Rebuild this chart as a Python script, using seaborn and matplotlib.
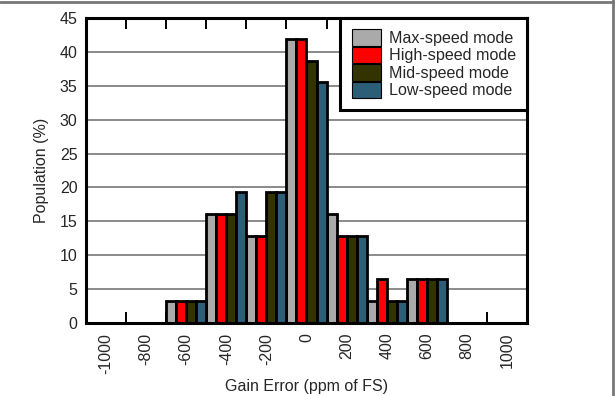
import pandas as pd
import seaborn as sns
import matplotlib.pyplot as plt
from matplotlib.lines import Line2D

bins = ["-1000", "-800", "-600", "-400", "-200", "0", "200", "400", "600", "800", "1000"]
modes = ["Max-speed mode", "High-speed mode", "Mid-speed mode", "Low-speed mode"]
max_speed = [0, 0, 3.2, 16.1, 12.9, 41.9, 16.1, 3.2, 6.5, 0, 0]
high_speed = [0, 0, 3.2, 16.1, 12.9, 41.9, 12.9, 6.5, 6.5, 0, 0]
mid_speed = [0, 0, 3.2, 16.1, 19.4, 38.7, 12.9, 3.2, 6.5, 0, 0]
low_speed = [0, 0, 3.2, 19.4, 19.4, 35.5, 12.9, 3.2, 6.5, 0, 0]
colors = ["#AAAAAA", "#FF0000", "#333300", "#2C5E78"]

rows = []
for mode, vals in zip(modes, [max_speed, high_speed, mid_speed, low_speed]):
    for b, v in zip(bins, vals):
        rows.append({"bin": b, "population": v, "mode": mode})
df = pd.DataFrame(rows)

sns.set_style("white")
plt.rcParams["font.family"] = ["Liberation Sans", "DejaVu Sans"]

fig, ax = plt.subplots(figsize=(6.15, 3.96), dpi=100)
fig.subplots_adjust(left=0.1398, right=0.8569, bottom=0.1843, top=0.9545)

sns.barplot(
    data=df, x="bin", y="population", hue="mode",
    order=bins, hue_order=modes, palette=colors,
    width=1, saturation=1, edgecolor="black", linewidth=2,
    errorbar=None, ax=ax,
)

n = len(bins)
ax.set_xlim(-0.5, n - 0.5)
ax.set_ylim(0, 45)
ax.set_yticks(range(0, 46, 5))
ax.set_axisbelow(True)
ax.yaxis.grid(True, color="#777777", linewidth=1.2)
ax.xaxis.grid(False)

# boundary ticks (major, no labels) and centred labels (minor, no marks)
ax.set_xticks([i - 0.5 for i in range(n + 1)])
ax.set_xticklabels([""] * (n + 1))
ax.set_xticks(range(n), minor=True)
ax.set_xticklabels(bins, minor=True)
ax.tick_params(axis="x", which="major", direction="in", length=8, width=1.4,
               top=True, bottom=True, color="black")
ax.tick_params(axis="x", which="minor", length=0, labelsize=11.5, rotation=90, pad=7)
ax.tick_params(axis="y", which="major", length=0, labelsize=11.5, pad=6)

for s in ax.spines.values():
    s.set_linewidth(2.2)
    s.set_color("black")
    s.set_visible(True)

ax.set_xlabel("Gain Error (ppm of FS)", fontsize=11.5, labelpad=4)
ax.set_ylabel("Population (%)", fontsize=11.5, labelpad=8)

leg = ax.legend(
    loc="upper right", fontsize=11.6, frameon=True, fancybox=False,
    borderaxespad=0, labelspacing=0.05, handlelength=1.85, handleheight=1.2,
    handletextpad=0.45, borderpad=0.7,
)
leg.get_frame().set_edgecolor("black")
leg.get_frame().set_linewidth(2.2)
leg.get_frame().set_alpha(1)
for h in leg.legend_handles:
    h.set_linewidth(0.8)

fig.add_artist(Line2D([0, 1], [0.996, 0.996], transform=fig.transFigure, color="#777777", lw=2))
fig.add_artist(Line2D([0.9968, 0.9968], [0, 1], transform=fig.transFigure, color="#777777", lw=2))

plt.savefig("out.png", dpi=100)
plt.close()
